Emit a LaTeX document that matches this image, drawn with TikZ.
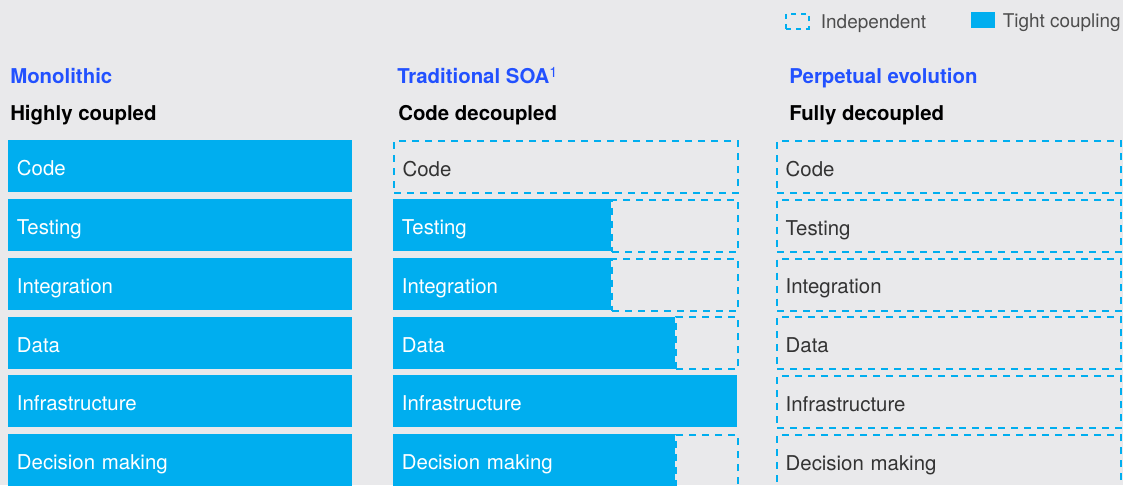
\documentclass[tikz,border=0pt]{standalone}
\usepackage{fontspec}
\setmainfont{TeX Gyre Heros}
\usetikzlibrary{positioning}

\definecolor{bggrey}{RGB}{233,233,235}
\definecolor{cplblue}{RGB}{0,174,239}
\definecolor{headblue}{RGB}{34,81,255}
\definecolor{txtgrey}{RGB}{51,51,51}
\definecolor{keygrey}{RGB}{77,77,77}

\tikzset{
	bar/.style={rectangle, anchor=north west, inner xsep=6.5pt, inner ysep=0pt, minimum height=39pt, text height=14pt, text depth=0pt, align=left, font=\fontsize{15.3}{18}\selectfont},
	tight/.style={bar, fill=cplblue, text=white},
	indep/.style={bar, draw=cplblue, line width=1.5pt, dash pattern=on 5.25pt off 4.5pt, text=txtgrey},
	colhead/.style={anchor=base west, inner sep=0pt, text=headblue, font=\fontsize{15.3}{18}\selectfont\bfseries},
	colsub/.style={anchor=base west, inner sep=0pt, text=black, font=\fontsize{15.3}{18}\selectfont\bfseries},
	keytxt/.style={anchor=base west, inner sep=0pt, text=keygrey, font=\fontsize{14.2}{17}\selectfont},
}

\begin{document}
\begin{tikzpicture}[x=0.75pt,y=0.75pt,yscale=-1,xscale=1]
		%background and page size
		\path [use as bounding box, fill=bggrey] (0,0) rectangle (1123,485);
		
		%legend
		\node [rectangle, draw=cplblue, line width=1.5pt, dash pattern=on 3.75pt off 3.75pt, minimum width=17pt, minimum height=11pt, inner sep=0pt, anchor=north west] (indepkey) at (785,13) {};
		\node [keytxt, anchor=west, text height=11pt, text depth=0pt, right=8.25pt of indepkey] (indeptxt) {Independent};
		\node [rectangle, fill=cplblue, minimum width=18pt, minimum height=11.5pt, inner sep=0pt, anchor=north west] (tightkey) at (971,12) {};
		\node [keytxt, anchor=west, text height=11pt, text depth=0pt, right=5.25pt of tightkey] (tighttxt) {Tight coupling};
		
		%column titles
		\node [colhead] (monohead) at (10,84) {Monolithic};
		\node [colsub] (monosub) at (10,120) {Highly coupled};
		\node [colhead] (soahead) at (397,84) {Traditional SOA\textsuperscript{\mdseries 1}};
		\node [colsub] (soasub) at (398,120) {Code decoupled};
		\node [colhead] (perphead) at (789,84) {Perpetual evolution};
		\node [colsub] (perpsub) at (789,120) {Fully decoupled};
		
		%monolithic
		\node [tight, text width=245pt] (mcode) at (8,140) {Code};
		\node [tight, text width=245pt] (mtest) at (8,198.8) {Testing};
		\node [tight, text width=245pt] (minteg) at (8,257.6) {Integration};
		\node [tight, text width=245pt] (mdata) at (8,316.4) {Data};
		\node [tight, text width=245pt] (minfra) at (8,375.2) {Infrastructure};
		\node [tight, text width=245pt] (mdecis) at (8,434) {Decision making};
		
		%traditional SOA
		\node [indep, text width=245pt] (scode) at (393,140) {Code};
		\node [tight, text width=150.5pt] (stest) at (393,198.8) {Testing};
		\node [indep, minimum width=94.5pt] (stestfree) at (611,198.8) {};
		\node [tight, text width=150.5pt] (sinteg) at (393,257.6) {Integration};
		\node [indep, minimum width=94.5pt] (sintegfree) at (611,257.6) {};
		\node [tight, text width=198.5pt] (sdata) at (393,316.4) {Data};
		\node [indep, minimum width=46.5pt] (sdatafree) at (675,316.4) {};
		\node [tight, text width=245pt] (sinfra) at (393,375.2) {Infrastructure};
		\node [tight, text width=198.5pt] (sdecis) at (393,434) {Decision making};
		\node [indep, minimum width=46.5pt] (sdecisfree) at (675,434) {};
		
		%perpetual evolution
		\node [indep, text width=245pt] (pcode) at (776,140) {Code};
		\node [indep, text width=245pt] (ptest) at (776,198.8) {Testing};
		\node [indep, text width=245pt] (pinteg) at (776,257.6) {Integration};
		\node [indep, text width=245pt] (pdata) at (776,316.4) {Data};
		\node [indep, text width=245pt] (pinfra) at (776,375.2) {Infrastructure};
		\node [indep, text width=245pt] (pdecis) at (776,434) {Decision making};
		
\end{tikzpicture}
\end{document}
